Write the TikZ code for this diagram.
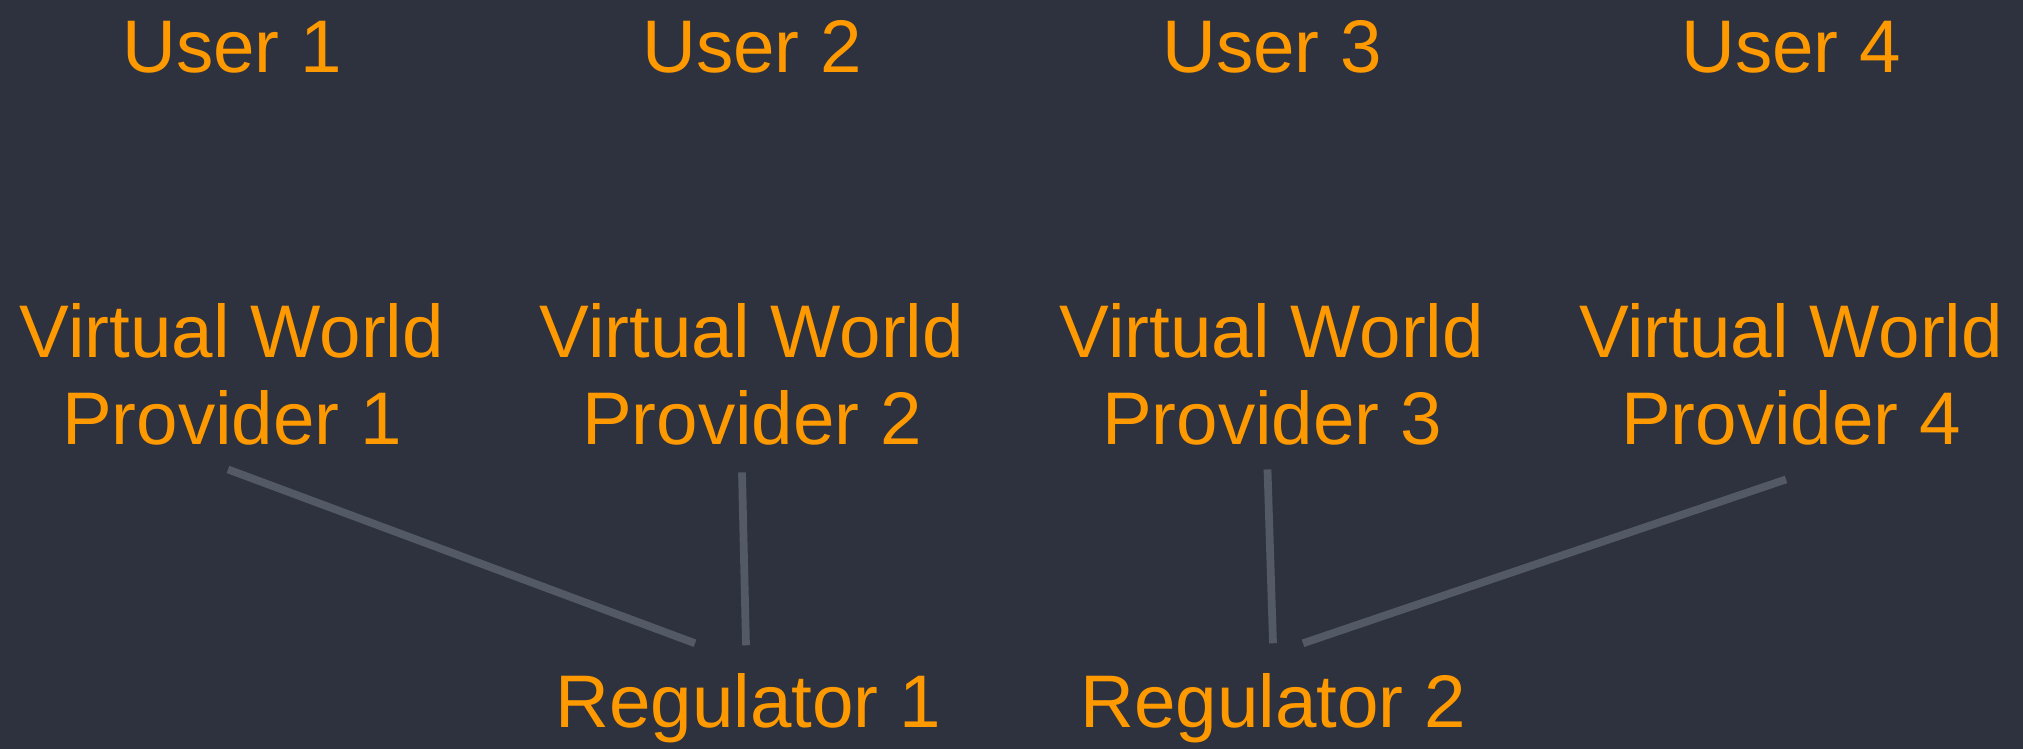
\documentclass[tikz,border=0pt]{standalone}
\usepackage{fontspec}
\setmainfont{Liberation Sans}
\usetikzlibrary{calc}
\definecolor{bgc}{HTML}{2E323E}
\definecolor{orng}{HTML}{FF9900}
\definecolor{linec}{HTML}{535A65}
\tikzset{
  lbl/.style={text=orng, inner sep=0pt, anchor=base, align=center,
    font=\fontsize{21.2pt}{25pt}\selectfont},
  conn/.style={draw=linec, line width=2.2pt}
}
\begin{document}
\begin{tikzpicture}[x=0.01cm, y=-0.01cm]
\fill[bgc] (0,0) rectangle (2023,749);
\useasboundingbox (0,0) rectangle (2023,749);
% users
\node[lbl] (u1) at (232,73) {User 1};
\node[lbl] (u2) at (752,73) {User 2};
\node[lbl] (u3) at (1272,73) {User 3};
\node[lbl] (u4) at (1791,73) {User 4};
% providers (base anchor = last line baseline)
\node[lbl] (p1) at (232,445) {Virtual World\\Provider 1};
\node[lbl] (p2) at (752,445) {Virtual World\\Provider 2};
\node[lbl] (p3) at (1272,445) {Virtual World\\Provider 3};
\node[lbl] (p4) at (1791,445) {Virtual World\\Provider 4};
% regulators
\node[lbl] (r1) at (748,728) {Regulator 1};
\node[lbl] (r2) at (1273,728) {Regulator 2};
% connectors
\draw[conn] ($(p1.south)+(-4,23)$) -- ($(r1.north)+(-53,-30)$);
\draw[conn] ($(p2.south)+(-10,26)$) -- ($(r1.north)+(-2,-28)$);
\draw[conn] ($(p3.south)+(-4.5,23)$) -- ($(r2.north)+(0,-30)$);
\draw[conn] ($(p4.south)+(-5,33)$) -- ($(r2.north)+(30,-30)$);
\end{tikzpicture}
\end{document}
